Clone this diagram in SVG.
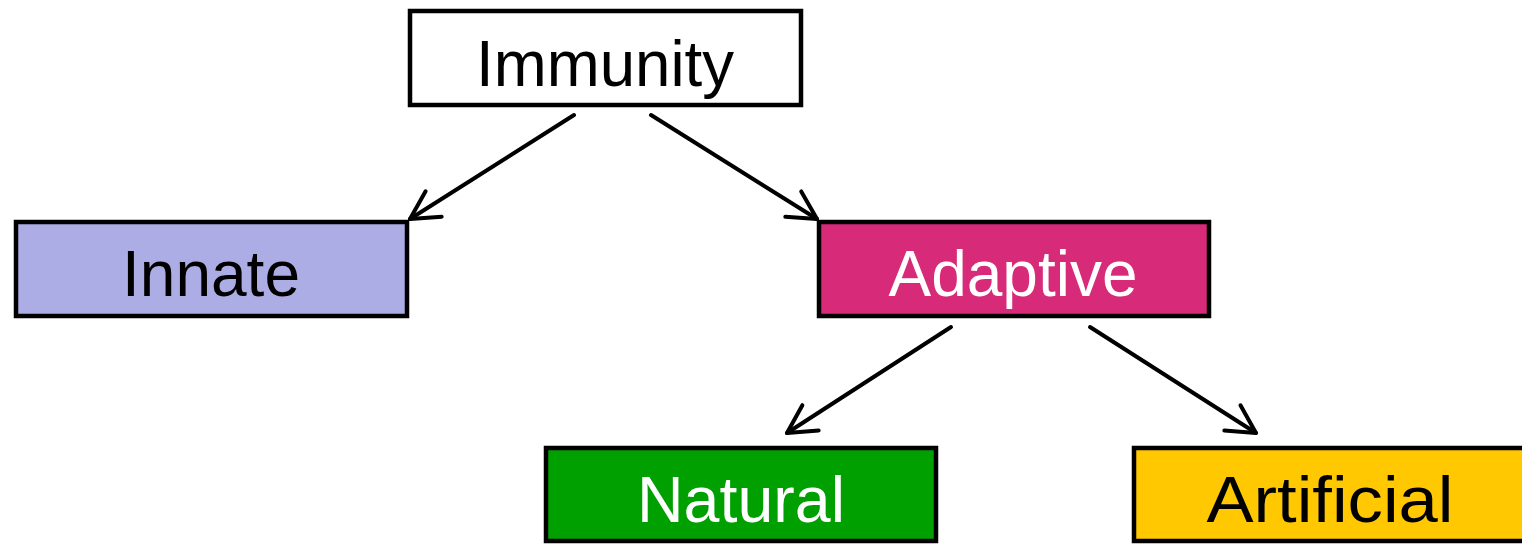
<svg xmlns="http://www.w3.org/2000/svg" width="1522" height="547" viewBox="0 0 1522 547">
<style>
.box{stroke:#000;stroke-width:4.5}
.lbl{font-family:"Liberation Sans",Arial,sans-serif;font-size:65px;text-anchor:middle}
.edge{fill:none;stroke:#000;stroke-width:4;stroke-linecap:round}
</style>
<defs>
<marker id="arr" markerUnits="userSpaceOnUse" markerWidth="60" markerHeight="60" viewBox="-40 -30 50 60" refX="0" refY="0" orient="auto">
<path d="M-28,-15 L0,0 L-28,15" fill="none" stroke="#000" stroke-width="4" stroke-linecap="round" stroke-linejoin="round"/>
</marker>
</defs>
<rect width="1522" height="547" fill="#fff"/>
<g id="connectors">
<line class="edge" x1="574" y1="115" x2="410" y2="219" marker-end="url(#arr)"/>
<line class="edge" x1="651" y1="115" x2="817" y2="219" marker-end="url(#arr)"/>
<line class="edge" x1="951" y1="327" x2="787" y2="433" marker-end="url(#arr)"/>
<line class="edge" x1="1090" y1="327" x2="1256" y2="433" marker-end="url(#arr)"/>
</g>
<g id="immunity">
<rect class="box" x="410" y="11" width="391" height="94" fill="#fff"/>
<text class="lbl" x="605" y="86" textLength="258" lengthAdjust="spacingAndGlyphs">Immunity</text>
</g>
<g id="innate">
<rect class="box" x="16" y="222" width="391" height="94" fill="#ADADE6"/>
<text class="lbl" x="211" y="296" textLength="178" lengthAdjust="spacingAndGlyphs">Innate</text>
</g>
<g id="adaptive">
<rect class="box" x="819" y="222" width="390" height="94" fill="#D72A78"/>
<text class="lbl" x="1013" y="296" fill="#fff" textLength="249" lengthAdjust="spacingAndGlyphs">Adaptive</text>
</g>
<g id="natural">
<rect class="box" x="546" y="448" width="390" height="93" fill="#00A000"/>
<text class="lbl" x="741" y="522" fill="#fff" textLength="208" lengthAdjust="spacingAndGlyphs">Natural</text>
</g>
<g id="artificial">
<rect class="box" x="1134" y="448" width="400" height="93" fill="#FFC800"/>
<text class="lbl" x="1330" y="522" textLength="247" lengthAdjust="spacingAndGlyphs">Artificial</text>
</g>
</svg>
